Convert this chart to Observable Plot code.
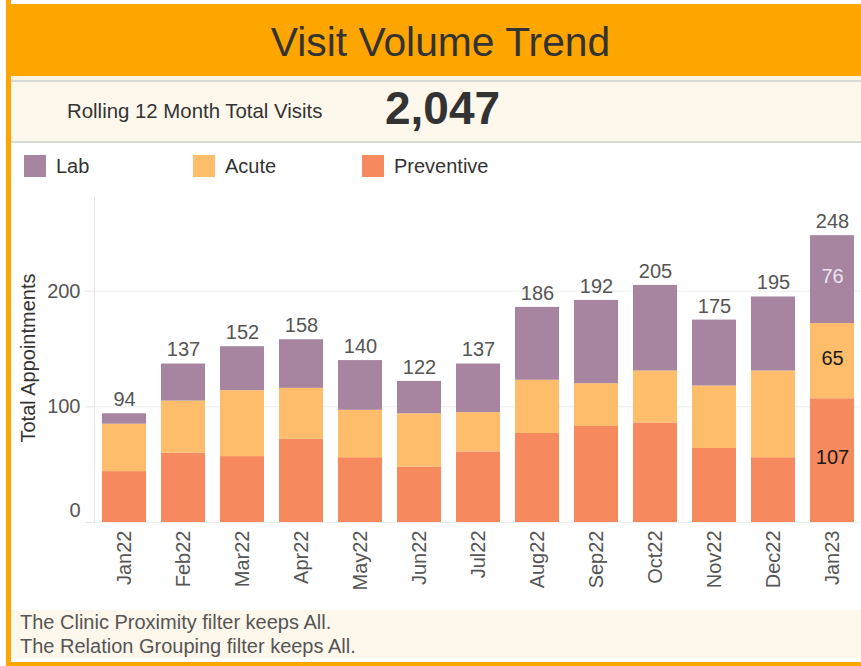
<!DOCTYPE html>
<html><head><meta charset="utf-8">
<script src="https://cdn.jsdelivr.net/npm/d3@7"></script>
<script src="https://cdn.jsdelivr.net/npm/@observablehq/plot@0.6"></script>
<style>
body{margin:0;background:#fff;font-family:"Liberation Sans",Arial,sans-serif;}
#wrap{position:relative;width:861px;height:666px;overflow:hidden;background:#fff;}
.abs{position:absolute;white-space:nowrap;}
.lbl{font-size:20px;color:#333;line-height:24px;}
.sw{width:22px;height:22px;}
</style></head><body><div id="wrap">
<div class="abs" style="left:6px;top:0;width:5px;height:666px;background:#ffa500"></div>
<div class="abs" style="left:6px;top:4px;width:855px;height:72px;background:#ffa500"></div>
<div class="abs" style="left:20px;top:4px;width:841px;height:72px;line-height:76px;text-align:center;font-size:40.8px;color:#333">Visit Volume Trend</div>
<div class="abs" style="left:11px;top:76px;width:850px;height:4px;background:#fdf3e3"></div>
<div class="abs" style="left:11px;top:80px;width:850px;height:2px;background:#d9d9d9"></div>
<div class="abs" style="left:11px;top:82px;width:850px;height:59px;background:#fef7ec"></div>
<div class="abs" style="left:11px;top:141px;width:850px;height:2px;background:#d9d9d9"></div>
<div class="abs lbl" style="left:67px;top:99px;font-size:20.4px">Rolling 12 Month Total Visits</div>
<div class="abs" id="big" style="left:385px;top:82px;font-size:46px;font-weight:bold;color:#333;line-height:52px;"></div>
<div id="legend"></div>
<div class="abs" id="chart" style="left:0;top:190px;"></div>
<div class="abs" style="left:11px;top:610px;width:850px;height:48px;background:#fef7ec"></div>
<div class="abs lbl" id="f1" style="left:20px;top:610px;color:#555"></div>
<div class="abs lbl" id="f2" style="left:20px;top:634px;color:#555"></div>
<div class="abs" style="left:6px;top:662px;width:855px;height:4px;background:#ffa500"></div>
</div>
<script>
const months = ["Jan22","Feb22","Mar22","Apr22","May22","Jun22","Jul22","Aug22","Sep22","Oct22","Nov22","Dec22","Jan23"];
const preventive = [44,60,57,72,56,48,61,77,83,86,64,56,107];
const acute      = [41,45,57,44,41,46,34,46,37,45,54,75,65];
const lab        = [ 9,32,38,42,43,28,42,63,72,74,57,64,76];
const types = ["Lab","Acute","Preventive"];
const colors = ["#a7849f","#fdbd6b","#f6895d"];
const yTicks = [0,100,200];
const footnotes = ["The Clinic Proximity filter keeps All.","The Relation Grouping filter keeps All."];

const data = months.flatMap((m,i)=>[
  {month:m,type:"Preventive",value:preventive[i]},
  {month:m,type:"Acute",value:acute[i]},
  {month:m,type:"Lab",value:lab[i]}
]);
const totals = months.map((m,i)=>({month:m,total:preventive[i]+acute[i]+lab[i]}));
const lastMonth = months[months.length-1];
const last = data.filter(d=>d.month===lastMonth);
const rolling = d3.sum(totals.slice(-12), d=>d.total);
document.getElementById("big").textContent = d3.format(",")(rolling);
document.getElementById("f1").textContent = footnotes[0];
document.getElementById("f2").textContent = footnotes[1];

const legend = document.getElementById("legend");
const legX = [24,193,362];
types.forEach((t,i)=>{
  const s=document.createElement("div");s.className="abs sw";s.style.left=legX[i]+"px";s.style.top="155px";s.style.background=colors[i];legend.appendChild(s);
  const l=document.createElement("div");l.className="abs lbl";l.style.left=(legX[i]+32)+"px";l.style.top="154px";l.textContent=t;legend.appendChild(l);
});

const order = ["Preventive","Acute","Lab"];
const chart = Plot.plot({
  width:861, height:410, marginLeft:94, marginRight:0, marginTop:7, marginBottom:78,
  style:{fontFamily:"'Liberation Sans', Arial, sans-serif", fontSize:"20px", background:"transparent", color:"#555"},
  x:{type:"band", domain:months, paddingInner:0.26, paddingOuter:0.1, label:null},
  y:{domain:[0,281], label:null},
  color:{domain:types, range:colors},
  marks:[
    Plot.gridY(yTicks,{stroke:"#ececec", strokeOpacity:1}),
    Plot.frame({anchor:"left", stroke:"#e6e6e6"}),
    Plot.axisY(yTicks,{tickSize:9, tickFormat:()=>"", stroke:"#e6e6e6", label:null}),
    Plot.axisY(yTicks.filter(v=>v>0),{tickSize:0, tickPadding:14, fill:"#555", fontSize:20, label:null}),
    Plot.axisY(yTicks.filter(v=>v===0),{tickSize:0, tickPadding:14, fill:"#555", fontSize:20, dy:-12, label:null}),
    Plot.barY(data,{x:"month", y:"value", fill:"type", order}),
    Plot.axisX({tickRotate:-90, tickSize:0, tickPadding:8, fill:"#555", fontSize:20, label:null}),
    Plot.text(totals,{x:"month", y:"total", text:d=>String(d.total), dy:-14, fill:"#555", fontSize:20}),
    Plot.text(last, Plot.stackY({x:"month", y:"value", z:"type", order, text:d=>d.type==="Lab"?String(d.value):"", fill:"#ece4f4", fontSize:20, dy:-3})),
    Plot.text(last, Plot.stackY({x:"month", y:"value", z:"type", order, text:d=>d.type!=="Lab"?String(d.value):"", fill:"#1a1a1a", fontSize:20, dy:-3})),
    Plot.text(["Total Appointments"],{frameAnchor:"left", textAnchor:"middle", rotate:-90, dx:-66, dy:-2, fill:"#333", fontSize:20})
  ]
});
document.getElementById("chart").appendChild(chart);
</script>
</body></html>
